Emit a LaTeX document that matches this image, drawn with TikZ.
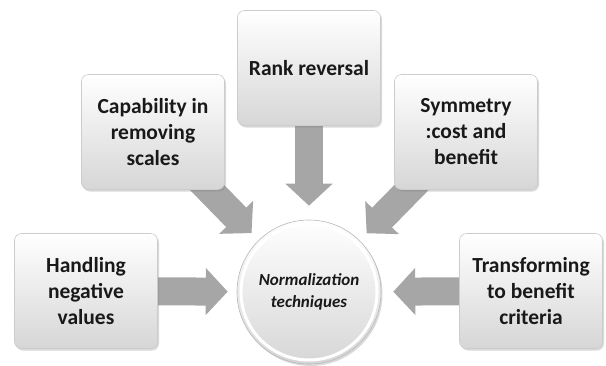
\documentclass[tikz,border=0pt]{standalone}
\usepackage{fontspec}
\setmainfont{Carlito}
\usetikzlibrary{arrows.meta,shadows,backgrounds}
\definecolor{arrowgray}{RGB}{166,166,166}
\definecolor{inkgray}{RGB}{25,25,25}
\tikzset{
  crit/.style={rectangle,rounded corners=7pt,minimum width=143pt,minimum height=115pt,
    top color=white,bottom color=gray!32,draw=gray!40,line width=.6pt,
    drop shadow={opacity=.3,shadow xshift=1.5pt,shadow yshift=-2pt},
    font=\bfseries\fontsize{21.5}{26}\selectfont,align=center,text=inkgray},
  hub/.style={circle,minimum size=144pt,top color=white,bottom color=gray!32,
    draw=gray!55,line width=.6pt,drop shadow={opacity=.3,shadow xshift=1.5pt,shadow yshift=-2pt},
    font=\bfseries\itshape\fontsize{17}{22}\selectfont,align=center,text=inkgray,
    path picture={\draw[white,line width=3pt] (path picture bounding box.center) circle (68pt);}},
  push/.style={line width=28pt,draw=arrowgray,-{Triangle[length=22pt,width=46pt]}}
}
\begin{document}
\begin{tikzpicture}[x=1pt,y=-1pt]
    \useasboundingbox (0,0) rectangle (606,365);
    % the five criteria around the hub
    \node[crit] (hand) at (86,291) {Handling\\negative\\values};
    \node[crit] (cap) at (153,132) {Capability in\\removing\\scales};
    \node[crit] (rank) at (309,68) {Rank reversal};
    \node[crit] (sym) at (466,132) {Symmetry\\:cost and\\benefit};
    \node[crit] (trans) at (531,291) {Transforming\\to benefit\\criteria};
    \node[hub] (norm) at (309,292) {Normalization\\techniques};
    % block arrows behind the boxes
    \begin{scope}[on background layer]
        \draw[push,shorten >=9pt] (hand.center)--(norm);
        \draw[push,shorten >=10pt] (cap.center)--(norm);
        \draw[push,shorten >=14pt] (rank.center)--(norm);
        \draw[push,shorten >=10pt] (sym.center)--(norm);
        \draw[push,shorten >=12pt] (trans.center)--(norm);
    \end{scope}
\end{tikzpicture}
\end{document}
